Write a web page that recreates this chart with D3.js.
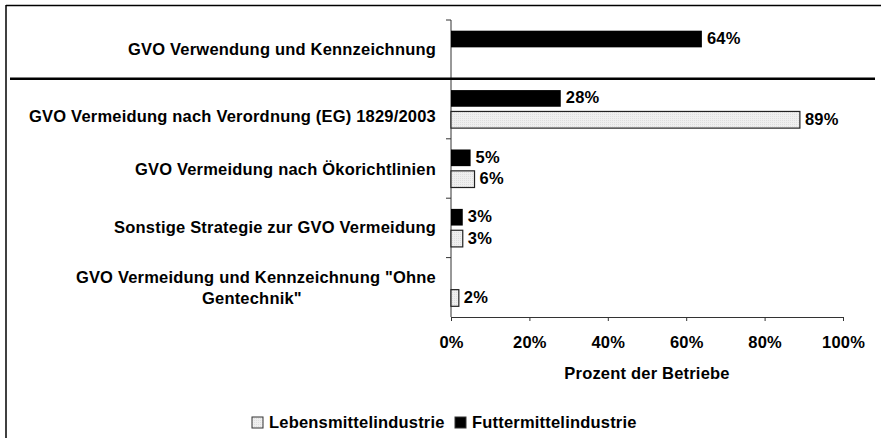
<!DOCTYPE html>
<html>
<head>
<meta charset="utf-8">
<script src="https://cdn.jsdelivr.net/npm/d3@7"></script>
<style>
  html, body { margin: 0; padding: 0; background: #fff; }
  svg { display: block; }
  text { font-family: "Liberation Sans", Arial, sans-serif; font-weight: bold; fill: #000; }
</style>
</head>
<body>
<svg id="chart" width="881" height="438"></svg>
<script>
// Strategies (label lines per category)
const categories = [
  "GVO Verwendung und Kennzeichnung",
  "GVO Vermeidung nach Verordnung (EG) 1829/2003",
  "GVO Vermeidung nach Ökorichtlinien",
  "Sonstige Strategie zur GVO Vermeidung",
  "GVO Vermeidung und Kennzeichnung \"Ohne Gentechnik\""
];
const categoryLines = [
  ["GVO Verwendung und Kennzeichnung"],
  ["GVO Vermeidung nach Verordnung (EG) 1829/2003"],
  ["GVO Vermeidung nach Ökorichtlinien"],
  ["Sonstige Strategie zur GVO Vermeidung"],
  ["GVO Vermeidung und Kennzeichnung \"Ohne", "Gentechnik\""]
];
const seriesNames = ["Futtermittelindustrie", "Lebensmittelindustrie"];
const futtermittel = [64, 28, 5, 3, 0];
const lebensmittel = [0, 89, 6, 3, 2];
const xTicks = [0, 20, 40, 60, 80, 100];
const axisTitle = "Prozent der Betriebe";
const legendOrder = ["Lebensmittelindustrie", "Futtermittelindustrie"];

const seriesValues = { "Futtermittelindustrie": futtermittel, "Lebensmittelindustrie": lebensmittel };
const seriesFill = { "Futtermittelindustrie": "#000", "Lebensmittelindustrie": "url(#dots)" };

const svg = d3.select("#chart");
const FONT = 16.5, LS = 0.2;

// light dotted fill for the food-industry bars
const defs = svg.append("defs");
const pat = defs.append("pattern").attr("id", "dots").attr("width", 2).attr("height", 2)
  .attr("patternUnits", "userSpaceOnUse");
pat.append("rect").attr("width", 2).attr("height", 2).attr("fill", "#efefef");
pat.append("rect").attr("width", 1).attr("height", 1).attr("fill", "#dedede");

const x = d3.scaleLinear().domain([0, 100]).range([451, 843]);
const y = d3.scaleBand().domain(categories).range([20, 317]).paddingInner(0.36).paddingOuter(0.18);
const ySub = d3.scaleBand().domain(seriesNames).range([0, y.bandwidth()]).paddingInner(0.22);

// frame (top and left edges)
svg.append("line").attr("x1", 6).attr("x2", 881).attr("y1", 5.5).attr("y2", 5.5)
  .attr("stroke", "#000").attr("stroke-width", 1.5);
svg.append("line").attr("x1", 6).attr("x2", 6).attr("y1", 5).attr("y2", 438)
  .attr("stroke", "#000").attr("stroke-width", 1.5);

// y axis (category ticks at band boundaries)
const yAxisG = svg.append("g");
yAxisG.append("line").attr("x1", 451).attr("x2", 451).attr("y1", 20).attr("y2", 317)
  .attr("stroke", "#333").attr("stroke-width", 1);
const bounds = categories.map(c => y(c) - y.step() * y.paddingInner() / 2);
bounds[0] = y.range()[0];
bounds.forEach(b => {
  yAxisG.append("line").attr("x1", 446).attr("x2", 451).attr("y1", b).attr("y2", b)
    .attr("stroke", "#333").attr("stroke-width", 1);
});

// x axis
const xAxis = d3.axisBottom(x).tickValues(xTicks).tickFormat(d => d + "%").tickSize(4).tickPadding(15);
const xg = svg.append("g").attr("transform", "translate(0,317)").call(xAxis);
xg.select(".domain").attr("stroke", "#333");
xg.selectAll(".tick line").attr("stroke", "#333");
xg.selectAll("text").attr("font-size", FONT).attr("letter-spacing", LS)
  .attr("font-family", "Liberation Sans, Arial, sans-serif").attr("font-weight", "bold").attr("fill", "#000");

svg.append("text").attr("x", x(50)).attr("y", 379).attr("text-anchor", "middle")
  .attr("font-size", FONT).attr("letter-spacing", LS).text(axisTitle);

// bars
const rows = [];
categories.forEach((c, i) => {
  seriesNames.forEach(s => {
    rows.push({ cat: c, series: s, value: seriesValues[s][i] });
  });
});
const visible = rows.filter(d => d.value > 0);

svg.append("g").selectAll("rect").data(visible).join("rect")
  .attr("x", x(0))
  .attr("y", d => y(d.cat) + ySub(d.series))
  .attr("width", d => x(d.value) - x(0))
  .attr("height", ySub.bandwidth())
  .attr("fill", d => seriesFill[d.series])
  .attr("stroke", d => d.series === "Lebensmittelindustrie" ? "#222" : "none")
  .attr("stroke-width", 1.2);

svg.append("g").selectAll("text").data(visible).join("text")
  .attr("x", d => x(d.value) + 5)
  .attr("y", d => y(d.cat) + ySub(d.series) + ySub.bandwidth() / 2 - 1)
  .attr("dy", "0.36em")
  .attr("font-size", FONT).attr("letter-spacing", LS)
  .text(d => d.value + "%");

// separator below the first strategy
svg.append("line").attr("x1", 10).attr("x2", 875).attr("y1", 78.7).attr("y2", 78.7)
  .attr("stroke", "#000").attr("stroke-width", 2.6);

// category labels
const labelNudge = [-1, 7, 1, -1, 0];
const lineGap = 21;
categories.forEach((c, i) => {
  const lines = categoryLines[i];
  const cy = y(c) + y.bandwidth() / 2 + labelNudge[i];
  const top = cy - (lines.length - 1) * lineGap / 2;
  const first = svg.append("text").attr("x", 436).attr("y", top).attr("dy", "0.36em")
    .attr("text-anchor", "end").attr("font-size", FONT).attr("letter-spacing", LS).text(lines[0]);
  if (lines.length > 1) {
    const w = first.node().getComputedTextLength();
    const mid = 436 - w / 2 - 4;
    for (let k = 1; k < lines.length; k++) {
      svg.append("text").attr("x", mid).attr("y", top + k * lineGap).attr("dy", "0.36em")
        .attr("text-anchor", "middle").attr("font-size", FONT).attr("letter-spacing", LS).text(lines[k]);
    }
  }
});

// legend
const legendFill = { "Lebensmittelindustrie": "url(#dots)", "Futtermittelindustrie": "#000" };
const legendX = [252, 455];
legendOrder.forEach((s, i) => {
  svg.append("rect").attr("x", legendX[i]).attr("y", 417).attr("width", 11).attr("height", 11)
    .attr("fill", legendFill[s]).attr("stroke", "#333").attr("stroke-width", 1);
  svg.append("text").attr("x", legendX[i] + 17).attr("y", 422.5).attr("dy", "0.36em")
    .attr("font-size", FONT).attr("letter-spacing", LS).text(s);
});
</script>
</body>
</html>
